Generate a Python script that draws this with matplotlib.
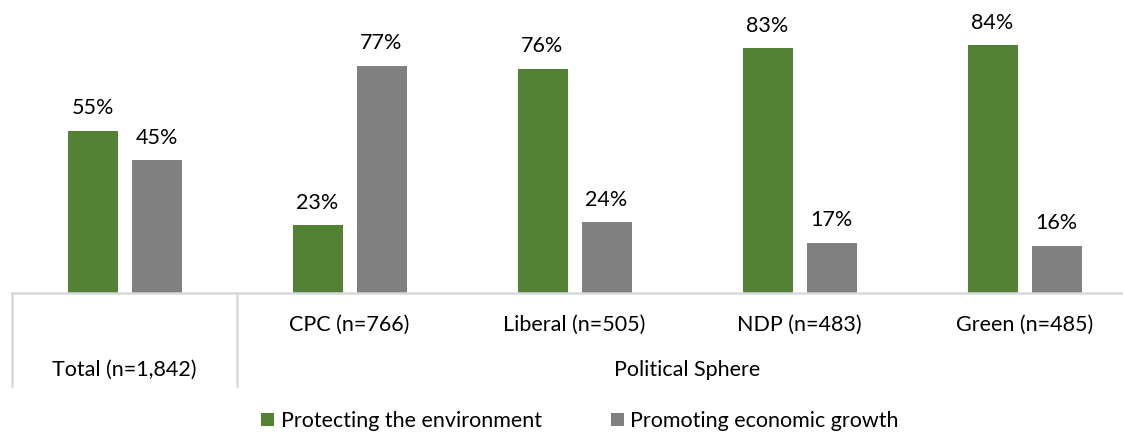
import matplotlib.pyplot as plt
import numpy as np

plt.rcParams['font.family'] = ['Lato', 'DejaVu Sans']

# Data
groups = ["Total (n=1,842)", "CPC (n=766)", "Liberal (n=505)", "NDP (n=483)", "Green (n=485)"]
environment = [55, 23, 76, 83, 84]
economy = [45, 77, 24, 17, 16]
series_names = ["Protecting the environment", "Promoting economic growth"]

green = "#548235"
grey = "#808080"
line_col = "#d9d9d9"
fs = 15.5

W, H = 1123, 433
fig = plt.figure(figsize=(W / 100, H / 100), dpi=100)
ax = fig.add_axes([12 / W, (H - 293) / H, 1125 / W, 293 / H])

x = np.arange(len(groups))
bw = 50 / 225
off = 32 / 225
b1 = ax.bar(x - off, environment, bw, color=green, label=series_names[0])
b2 = ax.bar(x + off, economy, bw, color=grey, label=series_names[1])

for bars, vals in [(b1, environment), (b2, economy)]:
    for b, v in zip(bars, vals):
        ax.annotate(f"{v}%", (b.get_x() + b.get_width() / 2, v),
                    xytext=(0, 9), textcoords="offset points",
                    ha="center", va="bottom", fontsize=fs)

ax.set_xlim(-0.5, 4.5)
ax.set_ylim(0, 99.3)
ax.set_xticks([])
ax.set_yticks([])
for s in ["top", "left", "right"]:
    ax.spines[s].set_visible(False)
ax.spines["bottom"].set_color(line_col)
ax.spines["bottom"].set_linewidth(1.8)

# multi-level category axis
trans = ax.get_xaxis_transform()
for xs in [-0.5, 0.5]:
    ax.plot([xs, xs], [0, -93 / 293], transform=trans, color=line_col,
            lw=1.8, clip_on=False)
for i, g in enumerate(groups[1:], start=1):
    ax.text(i, -32 / 293, g, transform=trans, ha="center", va="center", fontsize=fs)
ax.text(0, -77 / 293, groups[0], transform=trans, ha="center", va="center", fontsize=fs)
ax.text(2.5, -77 / 293, "Political Sphere", transform=trans, ha="center", va="center", fontsize=fs)

fig.legend(handles=[b1, b2], loc="center", bbox_to_anchor=(580 / W, (H - 421) / H),
           ncol=2, frameon=False, fontsize=fs, handlelength=0.6, handleheight=0.6,
           handletextpad=0.3, columnspacing=3.2)

fig.savefig("out.png", dpi=100)
